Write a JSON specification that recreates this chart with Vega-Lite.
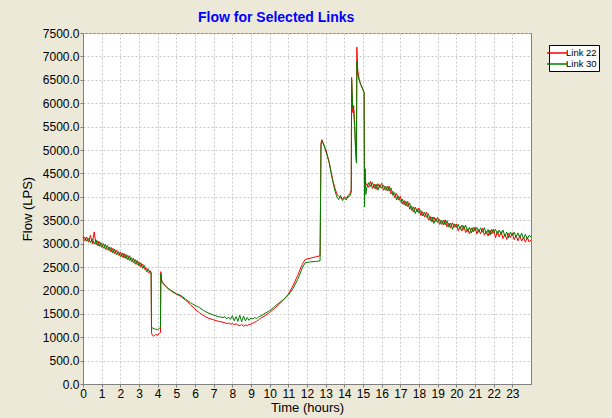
{
  "$schema": "https://vega.github.io/schema/vega-lite/v6.json",
  "autosize": "none",
  "width": 448,
  "height": 351,
  "padding": {"left": 83, "top": 33, "right": 81, "bottom": 34},
  "background": "#ECE9D8",
  "config": {
    "font": "Liberation Sans",
    "view": {"fill": "white", "stroke": "#808080", "strokeWidth": 1}
  },
  "title": {
    "text": "Flow for Selected Links",
    "color": "#0000FF",
    "fontSize": 14,
    "fontWeight": "bold",
    "font": "Liberation Sans",
    "anchor": "start",
    "frame": "group",
    "dx": 115,
    "offset": 2
  },
  "data": {
    "values": [
      {"t": 0.0, "Link 22": 3150, "Link 30": 3100},
      {"t": 0.1, "Link 22": 3060, "Link 30": 3140},
      {"t": 0.2, "Link 22": 3140, "Link 30": 3050},
      {"t": 0.3, "Link 22": 3030, "Link 30": 3110},
      {"t": 0.4, "Link 22": 3180, "Link 30": 3020},
      {"t": 0.5, "Link 22": 3000, "Link 30": 3100},
      {"t": 0.6, "Link 22": 3250, "Link 30": 2990},
      {"t": 0.7, "Link 22": 2980, "Link 30": 3080},
      {"t": 0.8, "Link 22": 3060, "Link 30": 2950},
      {"t": 0.9, "Link 22": 2940, "Link 30": 3040},
      {"t": 1.0, "Link 22": 3010, "Link 30": 2920},
      {"t": 1.1, "Link 22": 2900, "Link 30": 3000},
      {"t": 1.2, "Link 22": 2980, "Link 30": 2880},
      {"t": 1.3, "Link 22": 2860, "Link 30": 2960},
      {"t": 1.4, "Link 22": 2930, "Link 30": 2850},
      {"t": 1.5, "Link 22": 2820, "Link 30": 2920},
      {"t": 1.6, "Link 22": 2900, "Link 30": 2800},
      {"t": 1.7, "Link 22": 2780, "Link 30": 2880},
      {"t": 1.8, "Link 22": 2860, "Link 30": 2760},
      {"t": 1.9, "Link 22": 2750, "Link 30": 2830},
      {"t": 2.0, "Link 22": 2820, "Link 30": 2720},
      {"t": 2.1, "Link 22": 2710, "Link 30": 2800},
      {"t": 2.2, "Link 22": 2790, "Link 30": 2690},
      {"t": 2.3, "Link 22": 2680, "Link 30": 2770},
      {"t": 2.4, "Link 22": 2750, "Link 30": 2650},
      {"t": 2.5, "Link 22": 2640, "Link 30": 2740},
      {"t": 2.6, "Link 22": 2700, "Link 30": 2610},
      {"t": 2.7, "Link 22": 2590, "Link 30": 2690},
      {"t": 2.8, "Link 22": 2660, "Link 30": 2560},
      {"t": 2.9, "Link 22": 2550, "Link 30": 2640},
      {"t": 3.0, "Link 22": 2610, "Link 30": 2520},
      {"t": 3.1, "Link 22": 2500, "Link 30": 2590},
      {"t": 3.2, "Link 22": 2560, "Link 30": 2470},
      {"t": 3.3, "Link 22": 2450, "Link 30": 2530},
      {"t": 3.4, "Link 22": 2480, "Link 30": 2400},
      {"t": 3.5, "Link 22": 2380, "Link 30": 2460},
      {"t": 3.6, "Link 22": 2420, "Link 30": 2360},
      {"t": 3.65, "Link 22": 2380, "Link 30": 2380},
      {"t": 3.67, "Link 22": 1100, "Link 30": 1220},
      {"t": 3.7, "Link 22": 1050, "Link 30": 1200},
      {"t": 3.8, "Link 22": 1020, "Link 30": 1180},
      {"t": 3.9, "Link 22": 1060, "Link 30": 1170},
      {"t": 4.0, "Link 22": 1040, "Link 30": 1160},
      {"t": 4.1, "Link 22": 1090, "Link 30": 1190},
      {"t": 4.15, "Link 22": 1100, "Link 30": 1200},
      {"t": 4.17, "Link 22": 2400, "Link 30": 2350},
      {"t": 4.22, "Link 22": 2200, "Link 30": 2180},
      {"t": 4.3, "Link 22": 2150, "Link 30": 2140},
      {"t": 4.5, "Link 22": 2060, "Link 30": 2060},
      {"t": 4.75, "Link 22": 1980, "Link 30": 1990},
      {"t": 5.0, "Link 22": 1920, "Link 30": 1930},
      {"t": 5.25, "Link 22": 1870, "Link 30": 1890},
      {"t": 5.5, "Link 22": 1790, "Link 30": 1810},
      {"t": 5.75, "Link 22": 1700, "Link 30": 1740},
      {"t": 6.0, "Link 22": 1600, "Link 30": 1680},
      {"t": 6.25, "Link 22": 1520, "Link 30": 1630},
      {"t": 6.5, "Link 22": 1450, "Link 30": 1560},
      {"t": 6.75, "Link 22": 1400, "Link 30": 1510},
      {"t": 7.0, "Link 22": 1370, "Link 30": 1470},
      {"t": 7.25, "Link 22": 1340, "Link 30": 1440},
      {"t": 7.5, "Link 22": 1320, "Link 30": 1420},
      {"t": 7.6, "Link 22": 1310, "Link 30": 1440},
      {"t": 7.7, "Link 22": 1290, "Link 30": 1390},
      {"t": 7.8, "Link 22": 1300, "Link 30": 1430},
      {"t": 7.9, "Link 22": 1280, "Link 30": 1380},
      {"t": 8.0, "Link 22": 1290, "Link 30": 1460},
      {"t": 8.1, "Link 22": 1270, "Link 30": 1350},
      {"t": 8.2, "Link 22": 1285, "Link 30": 1440},
      {"t": 8.3, "Link 22": 1260, "Link 30": 1340},
      {"t": 8.4, "Link 22": 1240, "Link 30": 1470},
      {"t": 8.5, "Link 22": 1280, "Link 30": 1330},
      {"t": 8.6, "Link 22": 1230, "Link 30": 1450},
      {"t": 8.7, "Link 22": 1260, "Link 30": 1350},
      {"t": 8.8, "Link 22": 1250, "Link 30": 1420},
      {"t": 8.9, "Link 22": 1270, "Link 30": 1360},
      {"t": 9.0, "Link 22": 1280, "Link 30": 1410},
      {"t": 9.1, "Link 22": 1300, "Link 30": 1390},
      {"t": 9.2, "Link 22": 1320, "Link 30": 1420},
      {"t": 9.3, "Link 22": 1340, "Link 30": 1400},
      {"t": 9.4, "Link 22": 1370, "Link 30": 1430},
      {"t": 9.5, "Link 22": 1400, "Link 30": 1450},
      {"t": 9.75, "Link 22": 1460, "Link 30": 1510},
      {"t": 10.0, "Link 22": 1530, "Link 30": 1570},
      {"t": 10.25, "Link 22": 1610, "Link 30": 1650},
      {"t": 10.5, "Link 22": 1700, "Link 30": 1730},
      {"t": 10.75, "Link 22": 1800, "Link 30": 1810},
      {"t": 11.0, "Link 22": 1920, "Link 30": 1900},
      {"t": 11.25, "Link 22": 2100, "Link 30": 2040},
      {"t": 11.5, "Link 22": 2320, "Link 30": 2230},
      {"t": 11.75, "Link 22": 2560, "Link 30": 2480},
      {"t": 11.9, "Link 22": 2660, "Link 30": 2590},
      {"t": 12.2, "Link 22": 2690, "Link 30": 2610},
      {"t": 12.5, "Link 22": 2720, "Link 30": 2620},
      {"t": 12.7, "Link 22": 2740, "Link 30": 2630},
      {"t": 12.75, "Link 22": 5150, "Link 30": 5100},
      {"t": 12.8, "Link 22": 5220, "Link 30": 5200},
      {"t": 12.9, "Link 22": 5100, "Link 30": 5120},
      {"t": 13.0, "Link 22": 5020, "Link 30": 4980},
      {"t": 13.1, "Link 22": 4880, "Link 30": 4850},
      {"t": 13.2, "Link 22": 4700, "Link 30": 4730},
      {"t": 13.3, "Link 22": 4520, "Link 30": 4480},
      {"t": 13.4, "Link 22": 4320, "Link 30": 4300},
      {"t": 13.5, "Link 22": 4180, "Link 30": 4120},
      {"t": 13.6, "Link 22": 4060, "Link 30": 4000},
      {"t": 13.7, "Link 22": 4010, "Link 30": 3940},
      {"t": 13.8, "Link 22": 3980, "Link 30": 4030},
      {"t": 13.9, "Link 22": 3950, "Link 30": 3920},
      {"t": 14.0, "Link 22": 4000, "Link 30": 3980},
      {"t": 14.1, "Link 22": 3970, "Link 30": 3930},
      {"t": 14.2, "Link 22": 4030, "Link 30": 4000},
      {"t": 14.3, "Link 22": 4060, "Link 30": 4020},
      {"t": 14.37, "Link 22": 4150, "Link 30": 4100},
      {"t": 14.39, "Link 22": 6550, "Link 30": 6500},
      {"t": 14.45, "Link 22": 5800, "Link 30": 5900},
      {"t": 14.5, "Link 22": 5950, "Link 30": 5850},
      {"t": 14.55, "Link 22": 5600, "Link 30": 5500},
      {"t": 14.6, "Link 22": 5100, "Link 30": 5000},
      {"t": 14.65, "Link 22": 4750, "Link 30": 4720},
      {"t": 14.67, "Link 22": 7200, "Link 30": 6900},
      {"t": 14.72, "Link 22": 6700, "Link 30": 6600},
      {"t": 14.8, "Link 22": 6500, "Link 30": 6480},
      {"t": 14.9, "Link 22": 6380, "Link 30": 6380},
      {"t": 15.0, "Link 22": 6300, "Link 30": 6280},
      {"t": 15.06, "Link 22": 6230, "Link 30": 6220},
      {"t": 15.08, "Link 22": 4300, "Link 30": 3780},
      {"t": 15.12, "Link 22": 4400, "Link 30": 4600},
      {"t": 15.15, "Link 22": 4250, "Link 30": 4050},
      {"t": 15.2, "Link 22": 4280, "Link 30": 4190},
      {"t": 15.3, "Link 22": 4200, "Link 30": 4300},
      {"t": 15.4, "Link 22": 4330, "Link 30": 4220},
      {"t": 15.5, "Link 22": 4180, "Link 30": 4310},
      {"t": 15.6, "Link 22": 4270, "Link 30": 4180},
      {"t": 15.7, "Link 22": 4160, "Link 30": 4270},
      {"t": 15.8, "Link 22": 4280, "Link 30": 4140},
      {"t": 15.9, "Link 22": 4190, "Link 30": 4260},
      {"t": 16.0, "Link 22": 4290, "Link 30": 4180},
      {"t": 16.1, "Link 22": 4140, "Link 30": 4250},
      {"t": 16.2, "Link 22": 4230, "Link 30": 4140},
      {"t": 16.3, "Link 22": 4125, "Link 30": 4225},
      {"t": 16.4, "Link 22": 4230, "Link 30": 4120},
      {"t": 16.5, "Link 22": 4060, "Link 30": 4190},
      {"t": 16.6, "Link 22": 4120, "Link 30": 4030},
      {"t": 16.7, "Link 22": 3980, "Link 30": 4090},
      {"t": 16.8, "Link 22": 4070, "Link 30": 3930},
      {"t": 16.9, "Link 22": 3940, "Link 30": 4010},
      {"t": 17.0, "Link 22": 4010, "Link 30": 3900},
      {"t": 17.1, "Link 22": 3845, "Link 30": 3955},
      {"t": 17.2, "Link 22": 3920, "Link 30": 3830},
      {"t": 17.3, "Link 22": 3805, "Link 30": 3905},
      {"t": 17.4, "Link 22": 3900, "Link 30": 3790},
      {"t": 17.5, "Link 22": 3735, "Link 30": 3865},
      {"t": 17.6, "Link 22": 3800, "Link 30": 3710},
      {"t": 17.7, "Link 22": 3675, "Link 30": 3785},
      {"t": 17.8, "Link 22": 3780, "Link 30": 3640},
      {"t": 17.9, "Link 22": 3675, "Link 30": 3745},
      {"t": 18.0, "Link 22": 3760, "Link 30": 3650},
      {"t": 18.1, "Link 22": 3600, "Link 30": 3710},
      {"t": 18.2, "Link 22": 3680, "Link 30": 3590},
      {"t": 18.3, "Link 22": 3570, "Link 30": 3670},
      {"t": 18.4, "Link 22": 3670, "Link 30": 3560},
      {"t": 18.5, "Link 22": 3510, "Link 30": 3640},
      {"t": 18.6, "Link 22": 3580, "Link 30": 3490},
      {"t": 18.7, "Link 22": 3460, "Link 30": 3570},
      {"t": 18.8, "Link 22": 3570, "Link 30": 3430},
      {"t": 18.9, "Link 22": 3470, "Link 30": 3540},
      {"t": 19.0, "Link 22": 3560, "Link 30": 3450},
      {"t": 19.1, "Link 22": 3410, "Link 30": 3520},
      {"t": 19.2, "Link 22": 3500, "Link 30": 3410},
      {"t": 19.3, "Link 22": 3400, "Link 30": 3500},
      {"t": 19.4, "Link 22": 3510, "Link 30": 3400},
      {"t": 19.5, "Link 22": 3360, "Link 30": 3490},
      {"t": 19.6, "Link 22": 3440, "Link 30": 3350},
      {"t": 19.7, "Link 22": 3330, "Link 30": 3440},
      {"t": 19.8, "Link 22": 3445, "Link 30": 3305},
      {"t": 19.9, "Link 22": 3350, "Link 30": 3420},
      {"t": 20.0, "Link 22": 3420, "Link 30": 3340},
      {"t": 20.1, "Link 22": 3273, "Link 30": 3413},
      {"t": 20.2, "Link 22": 3366, "Link 30": 3306},
      {"t": 20.3, "Link 22": 3269, "Link 30": 3399},
      {"t": 20.4, "Link 22": 3382, "Link 30": 3302},
      {"t": 20.5, "Link 22": 3235, "Link 30": 3395},
      {"t": 20.6, "Link 22": 3318, "Link 30": 3258},
      {"t": 20.7, "Link 22": 3211, "Link 30": 3351},
      {"t": 20.8, "Link 22": 3334, "Link 30": 3224},
      {"t": 20.9, "Link 22": 3247, "Link 30": 3347},
      {"t": 21.0, "Link 22": 3350, "Link 30": 3270},
      {"t": 21.1, "Link 22": 3206, "Link 30": 3346},
      {"t": 21.2, "Link 22": 3302, "Link 30": 3242},
      {"t": 21.3, "Link 22": 3208, "Link 30": 3338},
      {"t": 21.4, "Link 22": 3324, "Link 30": 3244},
      {"t": 21.5, "Link 22": 3180, "Link 30": 3340},
      {"t": 21.6, "Link 22": 3266, "Link 30": 3206},
      {"t": 21.7, "Link 22": 3162, "Link 30": 3302},
      {"t": 21.8, "Link 22": 3288, "Link 30": 3178},
      {"t": 21.9, "Link 22": 3204, "Link 30": 3304},
      {"t": 22.0, "Link 22": 3310, "Link 30": 3230},
      {"t": 22.1, "Link 22": 3124, "Link 30": 3304},
      {"t": 22.2, "Link 22": 3258, "Link 30": 3198},
      {"t": 22.3, "Link 22": 3142, "Link 30": 3292},
      {"t": 22.4, "Link 22": 3256, "Link 30": 3196},
      {"t": 22.5, "Link 22": 3110, "Link 30": 3290},
      {"t": 22.6, "Link 22": 3204, "Link 30": 3154},
      {"t": 22.7, "Link 22": 3088, "Link 30": 3248},
      {"t": 22.8, "Link 22": 3222, "Link 30": 3122},
      {"t": 22.9, "Link 22": 3126, "Link 30": 3246},
      {"t": 23.0, "Link 22": 3230, "Link 30": 3170},
      {"t": 23.1, "Link 22": 3083, "Link 30": 3243},
      {"t": 23.2, "Link 22": 3176, "Link 30": 3136},
      {"t": 23.3, "Link 22": 3059, "Link 30": 3229},
      {"t": 23.4, "Link 22": 3172, "Link 30": 3132},
      {"t": 23.5, "Link 22": 3055, "Link 30": 3225},
      {"t": 23.6, "Link 22": 3128, "Link 30": 3098},
      {"t": 23.7, "Link 22": 3031, "Link 30": 3201},
      {"t": 23.8, "Link 22": 3134, "Link 30": 3094},
      {"t": 23.9, "Link 22": 3037, "Link 30": 3177},
      {"t": 24.0, "Link 22": 3070, "Link 30": 3140}
    ]
  },
  "transform": [{"fold": ["Link 22", "Link 30"], "as": ["series", "flow"]}],
  "mark": {"type": "line", "strokeWidth": 1, "interpolate": "linear"},
  "encoding": {
    "x": {
      "field": "t",
      "type": "quantitative",
      "scale": {"domain": [0, 24], "nice": false, "zero": false},
      "axis": {
        "title": "Time (hours)",
        "values": [0,1,2,3,4,5,6,7,8,9,10,11,12,13,14,15,16,17,18,19,20,21,22,23],
        "labelFontSize": 12,
        "labelColor": "black",
        "labelPadding": 1,
        "labelFlush": false,
        "labelOverlap": false,
        "tickSize": 3,
        "tickColor": "#808080",
        "domainColor": "#808080",
        "grid": true,
        "gridColor": "#c8c8c8",
        "gridDash": [2, 2],
        "titleFontSize": 13,
        "titleFontWeight": "normal",
        "titleColor": "black",
        "titlePadding": 2
      }
    },
    "y": {
      "field": "flow",
      "type": "quantitative",
      "scale": {"domain": [0, 7500], "nice": false},
      "axis": {
        "title": "Flow (LPS)",
        "values": [0,500,1000,1500,2000,2500,3000,3500,4000,4500,5000,5500,6000,6500,7000,7500],
        "format": ".1f",
        "labelFontSize": 12,
        "labelColor": "black",
        "labelPadding": 1,
        "labelFlush": false,
        "labelOverlap": false,
        "tickSize": 3,
        "tickColor": "#808080",
        "domainColor": "#808080",
        "grid": true,
        "gridColor": "#c8c8c8",
        "gridDash": [2, 2],
        "titleFontSize": 13,
        "titleFontWeight": "normal",
        "titleColor": "black",
        "titlePadding": 8
      }
    },
    "color": {
      "field": "series",
      "type": "nominal",
      "scale": {"domain": ["Link 22", "Link 30"], "range": ["#FF0000", "#008000"]},
      "legend": {
        "title": null,
        "orient": "none",
        "legendX": 466,
        "legendY": 12,
        "fillColor": "white",
        "strokeColor": "black",
        "padding": 2,
        "labelFontSize": 9.5,
        "labelColor": "black",
        "labelOffset": 3,
        "rowPadding": 0,
        "symbolType": "M-2,0H2",
        "symbolSize": 100,
        "symbolStrokeWidth": 1.5
      }
    }
  }
}
